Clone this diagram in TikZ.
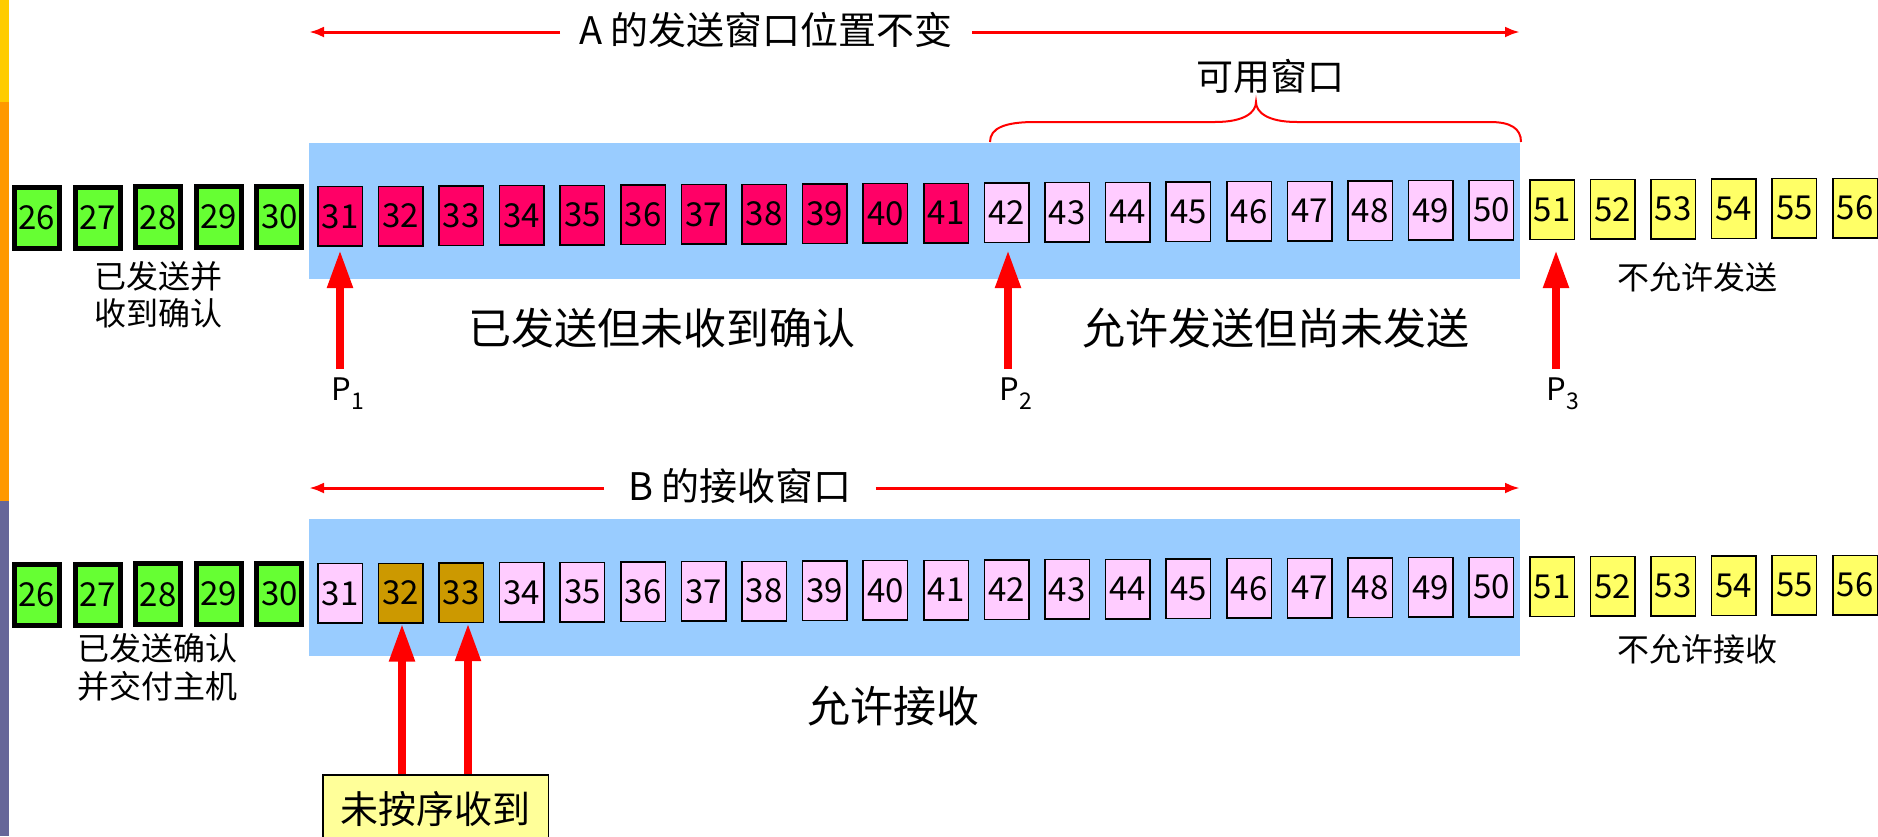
\documentclass[tikz,border=0pt]{standalone}
\usepackage{fontspec}
\setmainfont{Noto Sans CJK SC}
\usetikzlibrary{arrows.meta}
\definecolor{stripeY}{HTML}{FFCC00}
\definecolor{stripeO}{HTML}{FF9900}
\definecolor{stripeP}{HTML}{666699}
\definecolor{winblue}{HTML}{99CCFF}
\definecolor{sentred}{HTML}{FF0066}
\definecolor{lpink}{HTML}{FFCCFF}
\definecolor{dgreen}{HTML}{66FF33}
\definecolor{byellow}{HTML}{FFFF66}
\definecolor{brownish}{HTML}{CC9900}
\definecolor{noteyellow}{HTML}{FFFF99}
\newcommand{\myfs}[1]{\fontsize{#1}{#1}\selectfont}
\begin{document}
\begin{tikzpicture}[x=1pt,y=-1pt,
  seq/.style={draw=black,line width=1.5pt,minimum width=44.5pt,minimum height=59.5pt,inner sep=0pt,font=\myfs{33}},
  gbox/.style={seq,fill=dgreen,line width=5pt,minimum width=45pt,minimum height=61pt},
  rbox/.style={seq,fill=sentred},
  pbox/.style={seq,fill=lpink},
  ybox/.style={seq,fill=byellow},
  obox/.style={seq,fill=brownish},
  win/.style={fill=winblue,draw=none,minimum width=1211pt,inner sep=0pt},
  thinarrow/.style={draw=red,line width=3pt,-{Latex[length=15pt,width=11pt]}},
  bigarrow/.style={draw=red,line width=8pt,-{Triangle[length=38pt,width=24pt]}},
  brace/.style={draw=red,line width=2pt},
  lbl/.style={inner sep=0pt,text=black},
]
\useasboundingbox (0,0) rectangle (1878,836);
% left stripe
\fill[stripeY] (0,0) rectangle (9,102);
\fill[stripeO] (0,102) rectangle (9,501);
\fill[stripeP] (0,501) rectangle (9,836);

% windows
\node[win,minimum height=136pt] (winA) at (914.5,211) {};
\node[win,minimum height=137pt] (winB) at (914.5,587.5) {};

% top row
\foreach \n in {26,...,30} \node[gbox] (t\n) at ({37+(\n-26)*60.6},{218-0.33*(\n-26)}) {\n};
\foreach \n in {31,...,41} \node[rbox] (t\n) at ({37+(\n-26)*60.6},{218-0.33*(\n-26)}) {\n};
\foreach \n in {42,...,50} \node[pbox] (t\n) at ({37+(\n-26)*60.6},{218-0.33*(\n-26)}) {\n};
\foreach \n in {51,...,56} \node[ybox] (t\n) at ({37+(\n-26)*60.6},{218-0.33*(\n-26)}) {\n};

% bottom row
\foreach \n in {26,...,30} \node[gbox] (b\n) at ({37+(\n-26)*60.6},{595-0.33*(\n-26)}) {\n};
\foreach \n in {31} \node[pbox] (b\n) at ({37+(\n-26)*60.6},{595-0.33*(\n-26)}) {\n};
\foreach \n in {32,33} \node[obox] (b\n) at ({37+(\n-26)*60.6},{595-0.33*(\n-26)}) {\n};
\foreach \n in {34,...,50} \node[pbox] (b\n) at ({37+(\n-26)*60.6},{595-0.33*(\n-26)}) {\n};
\foreach \n in {51,...,56} \node[ybox] (b\n) at ({37+(\n-26)*60.6},{595-0.33*(\n-26)}) {\n};

% top window arrow
\node[lbl,font=\myfs{38},inner xsep=19pt] (Atxt) at (766,30) {A 的发送窗口位置不变};
\coordinate (aL) at (309,32);
\coordinate (aR) at (1520,32);
\draw[thinarrow] (Atxt.west |- aL) -- (aL);
\draw[thinarrow] (Atxt.east |- aR) -- (aR);

% brace and label
\draw[brace] (990,142) .. controls (990,128) and (1005,122) .. (1035,122) -- (1215,122)
  .. controls (1245,122) and (1256,112) .. (1256,102)
  .. controls (1256,112) and (1267,122) .. (1297,122) -- (1490,122)
  .. controls (1510,122) and (1521,128) .. (1521,142);
\node[lbl,font=\myfs{37}] (avail) at (1270,76) {可用窗口};

% bottom window arrow
\node[lbl,font=\myfs{38},inner xsep=24pt] (Btxt) at (740,486) {B 的接收窗口};
\coordinate (bL) at (309,488);
\coordinate (bR) at (1520,488);
\draw[thinarrow] (Btxt.west |- bL) -- (bL);
\draw[thinarrow] (Btxt.east |- bR) -- (bR);

% top labels
\node[lbl,font=\fontsize{32}{37}\selectfont,align=center] (doneA) at (158,295) {已发送并\\收到确认};
\node[lbl,font=\myfs{43}] (sentA) at (662,328) {已发送但未收到确认};
\node[lbl,font=\myfs{43}] (allowA) at (1276,328) {允许发送但尚未发送};
\node[lbl,font=\myfs{32}] (denyA) at (1697,277) {不允许发送};

% P arrows
\coordinate (p1tail) at (340,369);
\coordinate (p2tail) at (1008,369);
\coordinate (p3tail) at (1556,369);
\draw[bigarrow] (p1tail) -- (p1tail |- 0,250);
\draw[bigarrow] (p2tail) -- (p2tail |- 0,250);
\draw[bigarrow] (p3tail) -- (p3tail |- 0,250);
\node[lbl,font=\myfs{31}] (P1) at (348,394) {P\raisebox{-9pt}{\myfs{23}1}};
\node[lbl,font=\myfs{31}] (P2) at (1016,394) {P\raisebox{-9pt}{\myfs{23}2}};
\node[lbl,font=\myfs{31}] (P3) at (1563,394) {P\raisebox{-9pt}{\myfs{23}3}};

% bottom labels
\node[lbl,font=\fontsize{32}{38}\selectfont,align=center] (doneB) at (157.5,667) {已发送确认\\并交付主机};
\node[lbl,font=\myfs{43}] (allowB) at (893,706) {允许接收};
\node[lbl,font=\myfs{32}] (denyB) at (1697,649) {不允许接收};

% out-of-order note
\node[draw=black,line width=1.5pt,fill=noteyellow,minimum width=225.5pt,minimum height=68pt,inner sep=0pt,font=\myfs{38}] (note) at (435.5,808.75) {未按序收到};
\coordinate (a32) at (402,774);
\coordinate (a33) at (468,774);
\draw[bigarrow] (a32) -- (a32 |- b32.south);
\draw[bigarrow] (a33) -- (a33 |- b33.south);
\end{tikzpicture}
\end{document}
